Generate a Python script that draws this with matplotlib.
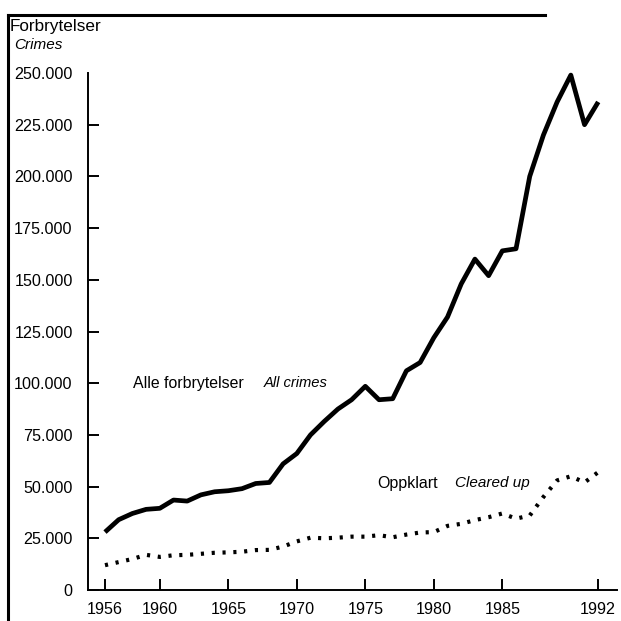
import matplotlib
matplotlib.use("Agg")
import matplotlib.pyplot as plt
from matplotlib.lines import Line2D
from matplotlib.ticker import FuncFormatter

# ---- data (thousands) ----
years = list(range(1956, 1993))
all_crimes = [28, 34, 37, 39, 39.5, 43.5, 43, 46, 47.5, 48,
              49, 51.5, 52, 61, 66, 75, 81.5, 87.5, 92, 98.5,
              92, 92.5, 106, 110, 122, 132, 148, 160, 152, 164,
              165, 200, 220, 236, 249, 225, 236]
cleared_up = [12, 13.5, 15, 17, 16, 16.8, 17, 17.5, 18, 18.2,
              18.5, 19.3, 19.4, 21, 23.5, 25.3, 25, 25.3, 25.8, 25.8,
              26.5, 25.5, 26.8, 27.8, 28, 31, 32, 33.8, 35.2, 37,
              34.5, 36, 45, 53, 55, 52, 57]
ytick_vals = [0, 25000, 50000, 75000, 100000, 125000, 150000, 175000, 200000, 225000, 250000]
xtick_vals = [1956, 1960, 1965, 1970, 1975, 1980, 1985, 1992]

plt.rcParams["font.family"] = ["Liberation Sans", "DejaVu Sans"]

W = H = 621
fig = plt.figure(figsize=(6.21, 6.21), dpi=100)
ax = fig.add_axes([88 / W, (H - 590) / H, (617 - 88) / W, (590 - 73) / H])

ax.plot(years, [v * 1000 for v in all_crimes], color="black", lw=3.4,
        solid_joinstyle="round", solid_capstyle="butt", clip_on=False)
ax.plot(years, [v * 1000 for v in cleared_up], color="black", lw=3.0,
        linestyle=(0, (0.75, 1.85)), dash_capstyle="butt", clip_on=False)

ax.set_xlim(1954.76, 1993.37)
ax.set_ylim(0, 250000)
for s in ("top", "right"):
    ax.spines[s].set_visible(False)
for s in ("left", "bottom"):
    ax.spines[s].set_linewidth(1.4)

ax.set_yticks(ytick_vals)
ax.yaxis.set_major_formatter(FuncFormatter(lambda v, p: "0" if v == 0 else f"{int(v):,}".replace(",", ".")))
ax.set_xticks(xtick_vals)
ax.tick_params(axis="both", direction="in", length=8, width=1.4, labelsize=11.6)
ax.tick_params(axis="y", pad=11)
ax.tick_params(axis="x", pad=9)
ax.yaxis.get_major_ticks()[-1].tick1line.set_visible(False)

ax.text(1958.05, 100000, "Alle forbrytelser", fontsize=11.4, va="center", ha="left")
ax.text(1967.55, 100000, "All crimes", fontsize=10.6, style="italic", va="center", ha="left")
ax.text(1975.85, 51500, "Oppklart", fontsize=11.5, va="center", ha="left")
ax.text(1981.55, 51500, "Cleared up", fontsize=11.0, style="italic", va="center", ha="left")

fig.text(10 / W, 1 - 27 / H, "Forbrytelser", fontsize=12.3, va="center", ha="left")
fig.text(14 / W, 1 - 45 / H, "Crimes", fontsize=11, style="italic", va="center", ha="left")

fig.add_artist(Line2D([8 / W, 8 / W], [0, 1 - 15 / H], color="black", lw=2.2,
                      transform=fig.transFigure))
fig.add_artist(Line2D([8 / W, 545 / W], [1 - 15 / H, 1 - 15 / H], color="black", lw=2.2,
                      transform=fig.transFigure))

fig.savefig("out.png", dpi=100)
